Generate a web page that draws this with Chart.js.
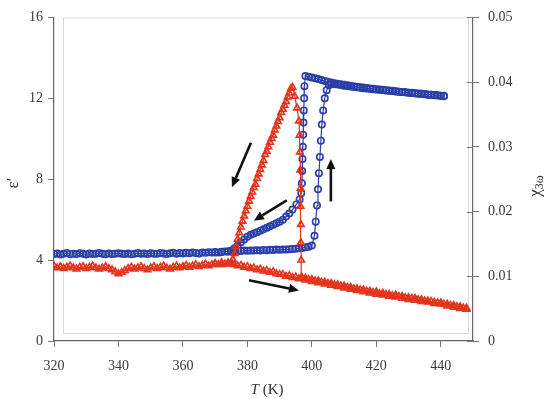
<!DOCTYPE html>
<html>
<head>
<meta charset="utf-8">
<script src="https://cdn.jsdelivr.net/npm/chart.js@4.4.1/dist/chart.umd.min.js"></script>
<style>
  html, body { margin: 0; padding: 0; background: #fff; }
  #wrap { width: 545px; height: 399px; }
</style>
</head>
<body>
<div id="wrap"><canvas id="myChart" width="545" height="399"></canvas></div>
<script>
// permittivity (left axis), heating then cooling run
const blueT = [
  320,321,322,323,324,325,326,327,328,329,330,331,332,333,334,335,336,337,338,339,
  340,341,342,343,344,345,346,347,348,349,350,351,352,353,354,355,356,357,358,359,
  360,361,362,363,364,365,366,367,368,369,370,371,372,373,374,375,376,377,378,379,
  380,381,382,383,384,385,386,387,388,389,390,391,392,393,394,395,396,397,398,399,
  400.0,400.8,401.2,401.6,401.9,402.2,402.5,402.8,403.1,403.5,404.0,404.6,405.3,
  406,407,408,409,410,411,412,413,414,415,416,417,418,419,420,421,422,423,424,425,
  426,427,428,429,430,431,432,433,434,435,436,437,438,439,440,441,
  441,440,439,438,437,436,435,434,433,432,431,430,429,428,427,426,425,424,423,422,
  421,420,419,418,417,416,415,414,413,412,411,410,409,408,407,406,405,404,403,402,
  401,400,399,398,
  397.7,397.6,397.5,397.4,397.3,397.2,397.1,397.0,396.9,396.7,396.2,395.2,394,393,392,
  391,390,389,388,387,386,385,384,383,382,381,380,379,378,377,376,375,374,372,370
];
const blueEps = [
  4.30,4.33,4.28,4.31,4.35,4.29,4.32,4.30,4.34,4.31,4.28,4.33,4.30,4.32,4.35,4.31,4.29,4.33,4.30,4.32,
  4.34,4.31,4.30,4.33,4.29,4.32,4.35,4.31,4.33,4.30,4.34,4.32,4.31,4.35,4.33,4.30,4.34,4.36,4.32,4.35,
  4.33,4.36,4.34,4.37,4.35,4.33,4.38,4.36,4.39,4.37,4.40,4.38,4.41,4.43,4.42,4.45,4.44,4.46,4.45,4.47,
  4.46,4.48,4.47,4.49,4.48,4.50,4.49,4.51,4.50,4.52,4.51,4.53,4.52,4.54,4.55,4.56,4.58,4.60,4.63,4.66,
  4.72,5.2,5.9,6.7,7.5,8.3,9.1,9.9,10.7,11.4,12.0,12.4,12.65,
  12.72,12.70,12.68,12.66,12.62,12.61,12.58,12.56,12.55,12.52,12.50,12.49,12.47,12.45,12.44,12.42,12.41,12.39,12.37,12.36,
  12.34,12.32,12.31,12.30,12.28,12.27,12.25,12.24,12.22,12.21,12.19,12.18,12.16,12.15,12.13,12.12,
  12.10,12.12,12.14,12.15,12.17,12.18,12.20,12.22,12.23,12.25,12.26,12.28,12.30,12.31,12.33,12.35,12.37,12.38,12.40,12.42,
  12.44,12.45,12.47,12.49,12.51,12.53,12.55,12.57,12.60,12.62,12.64,12.67,12.69,12.72,12.75,12.78,12.82,12.86,12.90,12.95,
  12.99,13.03,13.07,13.10,
  12.6,12.0,11.4,10.8,10.2,9.6,9.0,8.4,7.8,7.3,7.0,6.75,6.5,6.3,6.15,
  6.0,5.9,5.82,5.75,5.67,5.6,5.52,5.45,5.38,5.32,5.25,5.15,5.02,4.88,4.72,4.58,4.48,4.43,4.40,4.38
];

// third harmonic response (right axis), heating then cooling run
const redT = [
  320,321,322,323,324,325,326,327,328,329,330,331,332,333,334,335,336,337,338,339,
  340,341,342,343,344,345,346,347,348,349,350,351,352,353,354,355,356,357,358,359,
  360,361,362,363,364,365,366,367,368,369,370,371,372,373,374,375,
  376,377,378,379,380,381,382,383,384,385,386,387,388,389,390,391,392,393,394,395,
  396,397,398,399,400,401,402,403,404,405,406,407,408,409,410,411,412,413,414,415,
  416,417,418,419,420,421,422,423,424,425,426,427,428,429,430,431,432,433,434,435,
  436,437,438,439,440,441,442,443,444,445,446,447,448,
  448,446,444,442,440,438,436,434,432,430,428,426,424,422,420,418,416,414,412,410,
  408,406,404,402,400,398,396.8,
  396.7,396.6,396.6,396.5,396.5,396.4,396.3,396.2,396.0,395.4,394.7,394.0,
  393.5,393.0,392.5,392.0,391.5,391.0,390.5,390.0,389.5,389.0,388.5,388.0,387.5,387.0,
  386.5,386.0,385.5,385.0,384.5,384.0,383.5,383.0,382.5,382.0,381.5,381.0,380.5,380.0,
  379.5,379.0,378.5,378.0,377.5,377.0,376.5,376.0,375.5,375.0,374,372,370
];
const redChi = [
  0.0116,0.0113,0.0115,0.0112,0.0114,0.0116,0.0113,0.0111,0.0114,0.0115,
  0.0112,0.0114,0.0116,0.0113,0.0111,0.0113,0.0115,0.0112,0.0110,0.0107,
  0.0104,0.0106,0.0109,0.0112,0.0114,0.0111,0.0113,0.0115,0.0112,0.0110,
  0.0113,0.0115,0.0112,0.0114,0.0116,0.0113,0.0111,0.0114,0.0116,0.0113,
  0.0115,0.0117,0.0114,0.0116,0.0118,0.0115,0.0117,0.0119,0.0116,0.0118,
  0.0120,0.0118,0.0121,0.0119,0.0121,0.0120,
  0.0118,0.0116,0.0117,0.0114,0.0115,0.0112,0.0113,0.0110,0.0111,0.0108,
  0.0109,0.0106,0.0107,0.0104,0.0103,0.0103,0.0100,0.0101,0.0098,0.0099,
  0.0096,0.0097,0.0094,0.0095,0.0092,0.0093,0.0090,0.0091,0.0088,0.0089,
  0.0086,0.0087,0.0084,0.0085,0.0082,0.0083,0.0080,0.0081,0.0078,0.0079,
  0.0076,0.0077,0.0074,0.0075,0.0072,0.0073,0.0071,0.0072,0.0069,0.0070,
  0.0068,0.0069,0.0066,0.0067,0.0064,0.0066,0.0063,0.0064,0.0061,0.0062,
  0.0060,0.0061,0.0058,0.0059,0.0057,0.0057,0.0054,0.0055,0.0052,0.0053,
  0.0050,0.0051,0.0049,
  0.0051,0.0053,0.0055,0.0057,0.0059,0.0060,0.0062,0.0064,0.0066,0.0067,
  0.0069,0.0071,0.0072,0.0074,0.0076,0.0077,0.0079,0.0081,0.0083,0.0085,
  0.0087,0.0089,0.0091,0.0093,0.0095,0.0097,0.0099,
  0.0125,0.0152,0.0180,0.0208,0.0236,0.0264,0.0292,0.0318,0.0340,0.0360,0.0378,0.0392,
  0.0390,0.0383,0.0377,0.0370,0.0364,0.0358,0.0353,0.0345,0.0339,0.0332,
  0.0326,0.0318,0.0313,0.0307,0.0300,0.0293,0.0288,0.0279,0.0272,0.0265,
  0.0258,0.0251,0.0242,0.0237,0.0230,0.0223,0.0216,0.0208,0.0201,0.0193,
  0.0185,0.0176,0.0167,0.0157,0.0146,0.0135,0.0126,0.0121,0.0119,0.0118,0.0119
];

// ticks
const xTicks = [320, 340, 360, 380, 400, 420, 440];
const epsTicks = [0, 4, 8, 12, 16];
const chiTicks = [0, 0.01, 0.02, 0.03, 0.04, 0.05];

// sweep arrows, given in (T, eps') units: [fromT, fromEps, toT, toEps]
const sweepArrows = [
  [381.1, 9.8, 375.2, 7.6],
  [392.2, 6.95, 382.0, 5.95],
  [405.9, 6.9, 405.9, 9.0],
  [380.5, 3.0, 396.0, 2.5]
];

const blue = "#2a3ea8";
const red = "#e2341a";
const serif = "'Liberation Serif', 'DejaVu Serif', serif";

const toPoints = (xs, ys) => xs.map((x, i) => ({ x: x, y: ys[i] }));

const fixedTicks = list => scale => {
  scale.ticks = list.map(v => ({ value: v }));
};

const tickFont = { family: serif, size: 14 };

const frame = {
  id: "frame",
  beforeDatasetsDraw(chart) {
    const { ctx, chartArea } = chart;
    ctx.save();
    ctx.strokeStyle = "#dcdcdc";
    ctx.lineWidth = 1;
    ctx.strokeRect(chartArea.left + 9.5, chartArea.top + 0.5,
      chartArea.right - chartArea.left - 14, chartArea.bottom - chartArea.top - 8);
    // right axis ticks also reach a little inside the plot
    const ys = chart.scales.y1;
    ctx.strokeStyle = "#777";
    chiTicks.forEach(v => {
      const py = Math.round(ys.getPixelForValue(v)) + 0.5;
      ctx.beginPath();
      ctx.moveTo(chartArea.right - 6, py);
      ctx.lineTo(chartArea.right, py);
      ctx.stroke();
    });
    ctx.restore();
  },
  afterDatasetsDraw(chart) {
    const { ctx } = chart;
    const xs = chart.scales.x, ys = chart.scales.y;
    ctx.save();
    ctx.strokeStyle = "#111";
    ctx.fillStyle = "#111";
    ctx.lineWidth = 2.6;
    sweepArrows.forEach(a => {
      const x0 = xs.getPixelForValue(a[0]), y0 = ys.getPixelForValue(a[1]);
      const x1 = xs.getPixelForValue(a[2]), y1 = ys.getPixelForValue(a[3]);
      const ang = Math.atan2(y1 - y0, x1 - x0);
      const hl = 10, hw = 4.5;
      const bx = x1 - hl * Math.cos(ang), by = y1 - hl * Math.sin(ang);
      ctx.beginPath();
      ctx.moveTo(x0, y0);
      ctx.lineTo(bx, by);
      ctx.stroke();
      ctx.beginPath();
      ctx.moveTo(x1, y1);
      ctx.lineTo(bx + hw * Math.sin(ang), by - hw * Math.cos(ang));
      ctx.lineTo(bx - hw * Math.sin(ang), by + hw * Math.cos(ang));
      ctx.closePath();
      ctx.fill();
    });
    ctx.restore();
  },
  afterDraw(chart) {
    const { ctx } = chart;
    ctx.save();
    ctx.fillStyle = "#333";
    ctx.textBaseline = "middle";
    // x title: italic T followed by (K)
    ctx.font = "italic 15px " + serif;
    const wT = ctx.measureText("T").width;
    ctx.font = "15px " + serif;
    const wK = ctx.measureText(" (K)").width;
    let x = 267 - (wT + wK) / 2;
    ctx.font = "italic 15px " + serif;
    ctx.textAlign = "left";
    ctx.fillText("T", x, 390);
    ctx.font = "15px " + serif;
    ctx.fillText(" (K)", x + wT, 390);
    // left title
    ctx.save();
    ctx.translate(14, 183);
    ctx.rotate(-Math.PI / 2);
    ctx.textAlign = "center";
    ctx.font = "17px " + serif;
    ctx.fillText("ε′", 0, 0);
    ctx.restore();
    // right title
    ctx.save();
    ctx.translate(536, 186);
    ctx.rotate(-Math.PI / 2);
    ctx.font = "17px " + serif;
    const wc = ctx.measureText("χ").width;
    ctx.font = "12px " + serif;
    const ws = ctx.measureText("3ω").width;
    ctx.textAlign = "left";
    ctx.font = "17px " + serif;
    ctx.fillText("χ", -(wc + ws) / 2, 0);
    ctx.font = "12px " + serif;
    ctx.fillText("3ω", -(wc + ws) / 2 + wc, 4);
    ctx.restore();
    ctx.restore();
  }
};

new Chart(document.getElementById("myChart"), {
  type: "scatter",
  data: {
    datasets: [
      {
        label: "chi3w",
        data: toPoints(redT, redChi),
        yAxisID: "y1",
        showLine: true,
        borderColor: red,
        backgroundColor: "rgba(0,0,0,0)",
        borderWidth: 1.2,
        pointStyle: "triangle",
        pointRadius: 3.8,
        pointBorderWidth: 1.6,
        pointBorderColor: red
      },
      {
        label: "eps",
        data: toPoints(blueT, blueEps),
        yAxisID: "y",
        showLine: true,
        borderColor: blue,
        backgroundColor: "rgba(0,0,0,0)",
        borderWidth: 1.2,
        pointStyle: "circle",
        pointRadius: 3.2,
        pointBorderWidth: 1.6,
        pointBorderColor: blue
      }
    ]
  },
  options: {
    responsive: false,
    animation: false,
    devicePixelRatio: 1,
    layout: { padding: { top: 17, left: 0, right: 0, bottom: 0 } },
    plugins: { legend: { display: false }, tooltip: { enabled: false } },
    scales: {
      x: {
        type: "linear",
        min: 320,
        max: 450,
        afterBuildTicks: fixedTicks(xTicks),
        afterFit: s => { s.height = 58; },
        border: { color: "#666", width: 1.2 },
        grid: { drawOnChartArea: false, drawTicks: true, tickLength: 6, color: "#777" },
        ticks: { font: tickFont, color: "#3a3a3a", padding: 11, maxRotation: 0 }
      },
      y: {
        position: "left",
        min: 0,
        max: 16,
        afterBuildTicks: fixedTicks(epsTicks),
        afterFit: s => { s.width = 54; },
        border: { color: "#666", width: 1.2 },
        grid: { drawOnChartArea: false, drawTicks: true, tickLength: 6, color: "#777" },
        ticks: { font: tickFont, color: "#3a3a3a", padding: 5 }
      },
      y1: {
        position: "right",
        min: 0,
        max: 0.05,
        afterBuildTicks: fixedTicks(chiTicks),
        afterFit: s => { s.width = 72; },
        border: { color: "#666", width: 1.2 },
        grid: { drawOnChartArea: false, drawTicks: true, tickLength: 6, color: "#777" },
        ticks: { font: tickFont, color: "#3a3a3a", padding: 9 }
      }
    }
  },
  plugins: [frame]
});
</script>
</body>
</html>
